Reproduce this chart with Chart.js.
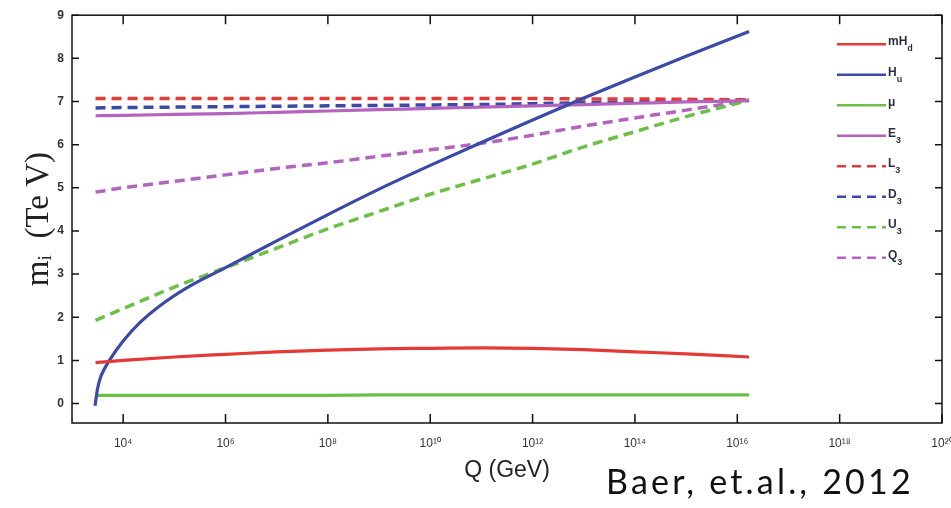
<!DOCTYPE html>
<html>
<head>
<meta charset="utf-8">
<script src="https://cdn.jsdelivr.net/npm/chart.js@4.4.1/dist/chart.umd.min.js"></script>
<style>
  body { margin: 0; background: #fff; }
  #wrap { position: relative; width: 951px; height: 508px; overflow: hidden; }
  #credit { position: absolute; left: 606px; top: 464px; font-family: Lato, sans-serif; font-size: 34px; line-height: 1; letter-spacing: 3.2px; color: #111; white-space: nowrap; }
</style>
</head>
<body>
<div id="wrap">
  <canvas id="rgeChart" width="951" height="508"></canvas>
  <div id="credit">Baer, et.al., 2012</div>
</div>
<script>
// log10(Q / GeV) grid shared by most curves
const logQ = [3.46, 4, 5, 6, 7, 8, 9, 10, 11, 12, 13, 14, 15, 16.23];
const mHd = [0.95, 1.0, 1.08, 1.14, 1.2, 1.24, 1.27, 1.28, 1.29, 1.28, 1.25, 1.2, 1.15, 1.08];
const mu  = [0.19, 0.19, 0.19, 0.19, 0.19, 0.19, 0.2, 0.2, 0.2, 0.2, 0.2, 0.2, 0.2, 0.2];
const E3  = [6.67, 6.68, 6.7, 6.72, 6.75, 6.78, 6.81, 6.84, 6.87, 6.9, 6.93, 6.96, 6.99, 7.02];
const L3  = [7.07, 7.07, 7.07, 7.07, 7.07, 7.07, 7.07, 7.07, 7.07, 7.07, 7.06, 7.06, 7.05, 7.04];
const D3  = [6.85, 6.86, 6.87, 6.88, 6.89, 6.9, 6.91, 6.92, 6.93, 6.95, 6.97, 6.99, 7.01, 7.03];
const U3  = [1.93, 2.2, 2.7, 3.15, 3.6, 4.05, 4.45, 4.85, 5.2, 5.55, 5.95, 6.3, 6.65, 7.03];
const Q3  = [4.9, 5.0, 5.15, 5.3, 5.45, 5.58, 5.73, 5.88, 6.03, 6.22, 6.43, 6.62, 6.8, 7.03];
// H_u needs a finer grid near its start
const logQHu = [3.45, 3.5, 3.55, 3.64, 3.74, 4, 4.33, 4.7, 5.3, 6, 7, 8, 9, 10, 11, 12, 13, 14, 15, 16.23];
const mHu    = [-0.05, 0.35, 0.58, 0.82, 1.02, 1.45, 1.88, 2.25, 2.72, 3.15, 3.77, 4.38, 4.97, 5.52, 6.05, 6.57, 7.08, 7.57, 8.05, 8.62];

const xTicks = [4, 6, 8, 10, 12, 14, 16, 18, 20];
const yTicks = [0, 1, 2, 3, 4, 5, 6, 7, 8, 9];
const legendMain = ['mH', 'H', 'μ', 'E', 'L', 'D', 'U', 'Q'];
const legendSub  = ['d', 'u', '', '3', '3', '3', '3', '3'];

const RED = '#e53935', BLUE = '#3a4aa6', GREEN = '#6cc046', PURPLE = '#b463be';
const sup = { '0': '⁰', '1': '¹', '2': '²', '4': '⁴', '6': '⁶', '8': '⁸' };

const pts = (xs, ys) => xs.map((x, i) => ({ x: x, y: ys[i] }));
const line = (data, color, dashed) => ({
  data: data,
  borderColor: color,
  borderWidth: dashed ? 3.5 : 3.2,
  borderDash: dashed ? [10, 6] : [],
  pointRadius: 0,
  fill: false,
  cubicInterpolationMode: 'monotone'
});

const frame = {
  id: 'frame',
  afterDraw(chart) {
    const { ctx, chartArea: a, scales } = chart;
    ctx.save();
    ctx.strokeStyle = '#111';
    ctx.lineWidth = 1.5;
    ctx.strokeRect(a.left, a.top, a.right - a.left, a.bottom - a.top);
    ctx.beginPath();
    xTicks.forEach(v => {
      const px = scales.x.getPixelForValue(v);
      ctx.moveTo(px, a.bottom); ctx.lineTo(px, a.bottom - 9);
      ctx.moveTo(px, a.top); ctx.lineTo(px, a.top + 9);
    });
    yTicks.forEach(v => {
      const py = scales.y.getPixelForValue(v);
      ctx.moveTo(a.left, py); ctx.lineTo(a.left + 7, py);
      ctx.moveTo(a.right, py); ctx.lineTo(a.right - 7, py);
    });
    ctx.stroke();

    // legend
    chart.data.datasets.forEach((ds, i) => {
      const y = a.top + 29 + i * 30.5;
      const x0 = a.right - 105;
      ctx.strokeStyle = ds.borderColor;
      ctx.lineWidth = 2.5;
      ctx.setLineDash(ds.borderDash.length ? [9, 6] : []);
      ctx.beginPath(); ctx.moveTo(x0, y); ctx.lineTo(x0 + 49, y); ctx.stroke();
      ctx.setLineDash([]);
      ctx.fillStyle = '#2b2f45';
      ctx.font = 'bold 12px "Liberation Sans"';
      ctx.textBaseline = 'alphabetic';
      ctx.textAlign = 'left';
      ctx.fillText(legendMain[i], x0 + 51, y + 1);
      const w = ctx.measureText(legendMain[i]).width;
      ctx.font = 'bold 9px "Liberation Sans"';
      ctx.fillText(legendSub[i], x0 + 51 + w, y + 7);
    });
    ctx.restore();
  }
};

new Chart(document.getElementById('rgeChart').getContext('2d'), {
  type: 'line',
  data: {
    datasets: [
      line(pts(logQ, mHd), RED, false),
      line(pts(logQHu, mHu), BLUE, false),
      line(pts(logQ, mu), GREEN, false),
      line(pts(logQ, E3), PURPLE, false),
      line(pts(logQ, L3), RED, true),
      line(pts(logQ, D3), BLUE, true),
      line(pts(logQ, U3), GREEN, true),
      line(pts(logQ, Q3), PURPLE, true)
    ]
  },
  options: {
    responsive: false,
    devicePixelRatio: 1,
    animation: false,
    layout: { padding: { left: 0, right: 9, top: 14, bottom: 0 } },
    plugins: { legend: { display: false }, tooltip: { enabled: false } },
    scales: {
      x: {
        type: 'linear',
        min: 3,
        max: 20,
        afterBuildTicks: s => { s.ticks = xTicks.map(v => ({ value: v })); },
        afterFit: s => { s.height = 85; s.paddingLeft = 0; s.paddingRight = 0; },
        grid: { display: false, drawTicks: false },
        border: { display: false },
        ticks: {
          padding: 13,
          color: '#333',
          font: { family: '"Liberation Sans"', size: 12 },
          maxRotation: 0,
          autoSkip: false,
          callback: v => '10' + String(v).split('').map(c => sup[c]).join('')
        },
        title: {
          display: true,
          text: 'Q (GeV)',
          color: '#222',
          font: { family: '"Liberation Sans"', size: 23 },
          padding: { top: 4, bottom: 24 }
        }
      },
      y: {
        min: -0.45,
        max: 9,
        afterBuildTicks: s => { s.ticks = yTicks.map(v => ({ value: v })); },
        afterFit: s => { s.width = 72; },
        grid: { display: false, drawTicks: false },
        border: { display: false },
        ticks: {
          padding: 8,
          color: '#333',
          font: { family: '"Liberation Sans"', size: 12, weight: 'bold' }
        },
        title: {
          display: true,
          text: 'mᵢ  (Te V)',
          color: '#222',
          font: { family: '"Liberation Serif"', size: 33 },
          padding: { top: 20, bottom: 0 }
        }
      }
    }
  },
  plugins: [frame]
});
</script>
</body>
</html>
